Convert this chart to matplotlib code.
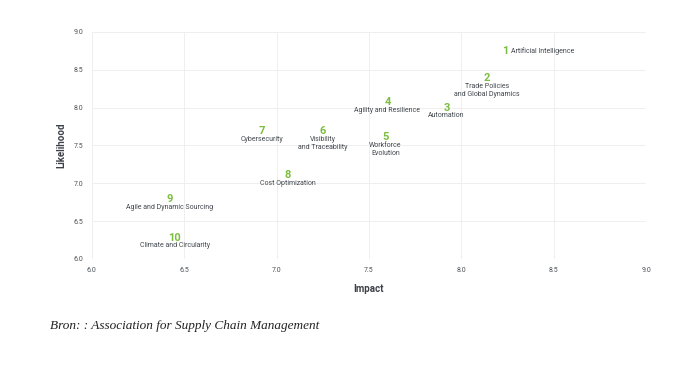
import matplotlib.pyplot as plt

# trend rank, impact, likelihood, label
ranks = [1, 2, 3, 4, 5, 6, 7, 8, 9, 10]
impact = [8.24, 8.14, 7.92, 7.60, 7.59, 7.25, 6.92, 7.06, 6.42, 6.45]
likelihood = [8.75, 8.39, 8.00, 8.07, 7.61, 7.69, 7.69, 7.11, 6.79, 6.28]
labels = [
    "Artificial Intelligence",
    "Trade Policies\nand Global Dynamics",
    "Automation",
    "Agility and Resilience",
    "Workforce\nEvolution",
    "Visibility\nand Traceability",
    "Cybersecurity",
    "Cost Optimization",
    "Agile and Dynamic Sourcing",
    "Climate and Circularity",
]
ticks = [6.0, 6.5, 7.0, 7.5, 8.0, 8.5, 9.0]

plt.rcParams['font.family'] = ['Roboto', 'DejaVu Sans']
green = "#7cbd3f"
dark = "#43484e"

fig = plt.figure(figsize=(7, 3.91), dpi=100)
ax = fig.add_axes([0.131, 0.3376, 0.792, 0.5806])

for r, x, y, lab in zip(ranks, impact, likelihood, labels):
    ax.text(x, y, str(r), color=green, fontsize=8, fontweight='bold',
            ha='center', va='center')
    if r == 1:
        ax.text(x + 0.03, y, lab, color=dark, fontsize=5, ha='left', va='center')
    else:
        ax.text(x, y - 0.06, lab, color=dark, fontsize=5, ha='center', va='top',
                linespacing=1.2)

ax.set_xlim(6, 9)
ax.set_ylim(6, 9)
ax.set_xticks(ticks)
ax.set_yticks(ticks)
ax.set_xticklabels([f"{t:.1f}" for t in ticks])
ax.set_yticklabels([f"{t:.1f}" for t in ticks])
ax.tick_params(length=0, labelsize=5, colors="#4d5258", pad=6)
for s in ax.spines.values():
    s.set_visible(False)
ax.grid(True, color="#efefef", linewidth=0.7)
ax.set_axisbelow(True)

ax.set_xlabel("Impact", fontsize=7, fontweight='bold', color="#3c4148", labelpad=7)
ax.set_ylabel("Likelihood", fontsize=7, fontweight='bold', color="#3c4148", labelpad=5)

fig.text(0.071, 0.165, "Bron: : Association for Supply Chain Management",
         family=['Liberation Serif'], style='italic', fontsize=9.5, color="#222222",
         va='center')

fig.savefig("out.png", dpi=100, facecolor="white")
